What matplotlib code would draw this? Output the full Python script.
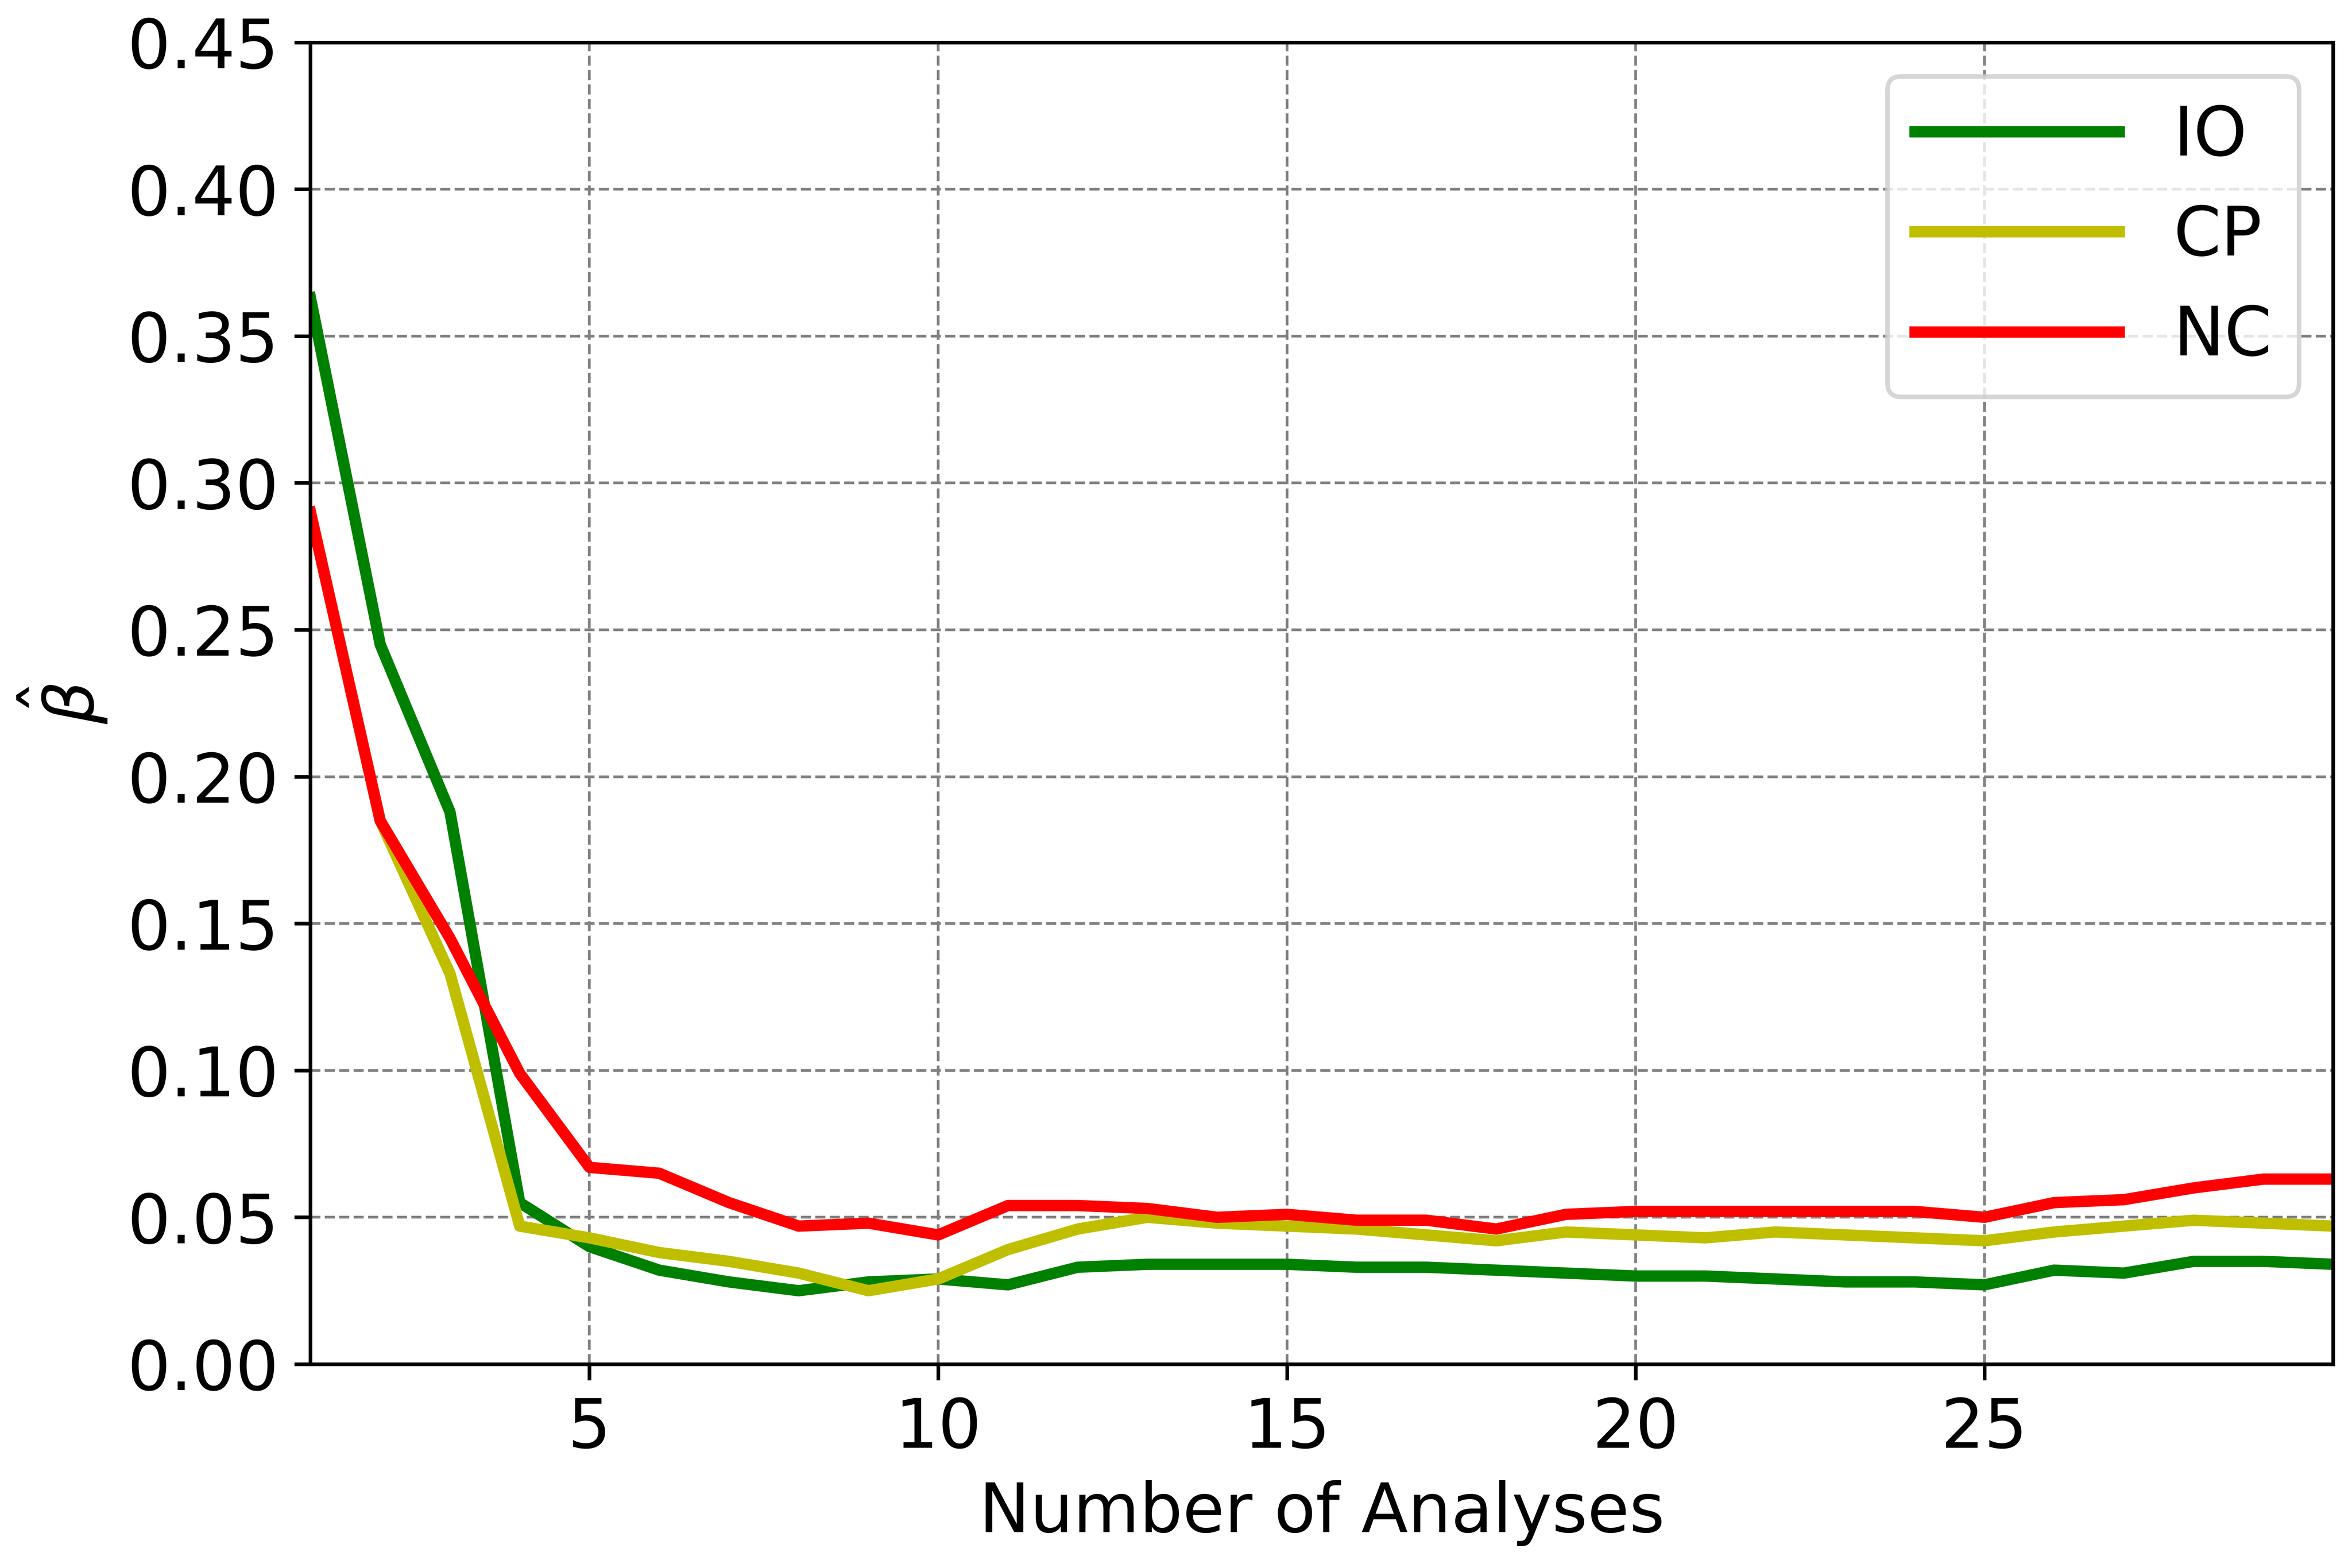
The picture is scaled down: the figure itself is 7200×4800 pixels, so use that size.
import matplotlib
matplotlib.use("Agg")
import matplotlib.pyplot as plt
import numpy as np

x = list(range(1, 31))
io = [0.363, 0.245, 0.188, 0.055, 0.040, 0.032, 0.028, 0.025, 0.028, 0.029, 0.027, 0.033, 0.034, 0.034, 0.034,
      0.033, 0.033, 0.032, 0.031, 0.030, 0.030, 0.029, 0.028, 0.028, 0.027, 0.032, 0.031, 0.035, 0.035, 0.034]
cp = [0.290, 0.185, 0.133, 0.047, 0.043, 0.038, 0.035, 0.031, 0.025, 0.029, 0.039, 0.046, 0.050, 0.048, 0.047,
      0.046, 0.044, 0.042, 0.045, 0.044, 0.043, 0.045, 0.044, 0.043, 0.042, 0.045, 0.047, 0.049, 0.048, 0.047]
nc = [0.290, 0.185, 0.145, 0.099, 0.067, 0.065, 0.055, 0.047, 0.048, 0.044, 0.054, 0.054, 0.053, 0.050, 0.051,
      0.049, 0.049, 0.046, 0.051, 0.052, 0.052, 0.052, 0.052, 0.052, 0.050, 0.055, 0.056, 0.060, 0.063, 0.063]

fig = plt.figure(figsize=(7.2, 4.8), dpi=1000)
ax = fig.add_axes([0.132, 0.13, 0.860, 0.843])
ax.plot(x, io, color='g', lw=2.5, label='IO')
ax.plot(x, cp, color='y', lw=2.5, label='CP')
ax.plot(x, nc, color='r', lw=2.5, label='NC')
ax.set_xlim(1, 30)
ax.set_ylim(0, 0.45)
ax.set_xticks([5, 10, 15, 20, 25])
ax.set_yticks(np.arange(0, 0.451, 0.05))
ax.set_yticklabels([f"{v:.2f}" for v in np.arange(0, 0.451, 0.05)])
ax.tick_params(labelsize=15)
ax.grid(True, linestyle='--', color='gray', lw=0.6)
ax.set_xlabel("Number of Analyses", fontsize=15)
ax.set_ylabel(r"$\hat{\beta}$", fontsize=15)
ax.legend(loc='upper right', fontsize=15, handlelength=3)
fig.savefig("out.png")
